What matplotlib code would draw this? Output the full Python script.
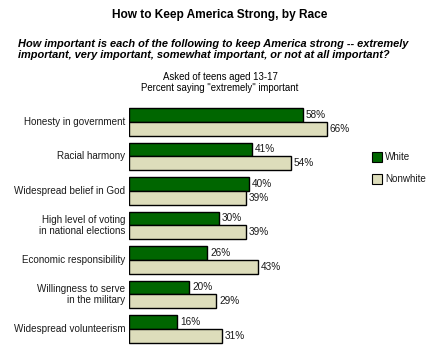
import matplotlib
matplotlib.use("Agg")
import matplotlib.pyplot as plt
import numpy as np

plt.rcParams['font.family'] = ['Liberation Sans', 'DejaVu Sans']

categories = ["Honesty in government", "Racial harmony", "Widespread belief in God",
              "High level of voting\nin national elections", "Economic responsibility",
              "Willingness to serve\nin the military", "Widespread volunteerism"]
white = [58, 41, 40, 30, 26, 20, 16]
nonwhite = [66, 54, 39, 39, 43, 29, 31]
series_names = ["White", "Nonwhite"]
colors = ["#006600", "#DDDDBB"]

W, H = 440, 352
fig = plt.figure(figsize=(W/100, H/100), dpi=100)

ax_left, ax_right = 129, 429
ax_top, ax_bot = 104.55, 346.05
ax = fig.add_axes([ax_left/W, 1-ax_bot/H, (ax_right-ax_left)/W, (ax_bot-ax_top)/H])
ax.set_xlim(0, 100)
ax.set_ylim(6.5, -0.5)
ax.axis('off')

y = np.arange(len(categories))
h = 0.4
ax.barh(y - h/2, white, height=h, color=colors[0], edgecolor='black', linewidth=1.0)
ax.barh(y + h/2, nonwhite, height=h, color=colors[1], edgecolor='black', linewidth=1.0)

for i in range(len(categories)):
    ax.text(white[i] + 1.0, y[i] - h/2, f"{white[i]}%", va='center', ha='left', fontsize=7.2, color='#1a1a1a')
    ax.text(nonwhite[i] + 1.0, y[i] + h/2, f"{nonwhite[i]}%", va='center', ha='left', fontsize=7.2, color='#1a1a1a')
    ax.text(-1.2, y[i], categories[i], va='center', ha='right', fontsize=7.1, color='#1a1a1a',
            linespacing=1.15)

fig.text(220/W, 1-15/H, "How to Keep America Strong, by Race", ha='center', va='center',
         fontsize=8.6, fontweight='bold')
fig.text(18/W, 1-49.5/H, "How important is each of the following to keep America strong -- extremely\n"
         "important, very important, somewhat important, or not at all important?",
         ha='left', va='center', fontsize=7.9, fontweight='bold', style='italic', linespacing=1.2)
fig.text(220/W, 1-82.5/H, "Asked of teens aged 13-17\nPercent saying \"extremely\" important",
         ha='center', va='center', fontsize=6.9, linespacing=1.2)

for name, col, yc in zip(series_names, colors, [157, 179]):
    fig.patches.append(plt.Rectangle((372/W, 1-(yc+5)/H), 10/W, 10/H, transform=fig.transFigure,
                                     facecolor=col, edgecolor='black', linewidth=0.8))
    fig.text(385/W, 1-yc/H, name, ha='left', va='center', fontsize=7.1, color='#1a1a1a')

fig.savefig("out.png", dpi=100)
